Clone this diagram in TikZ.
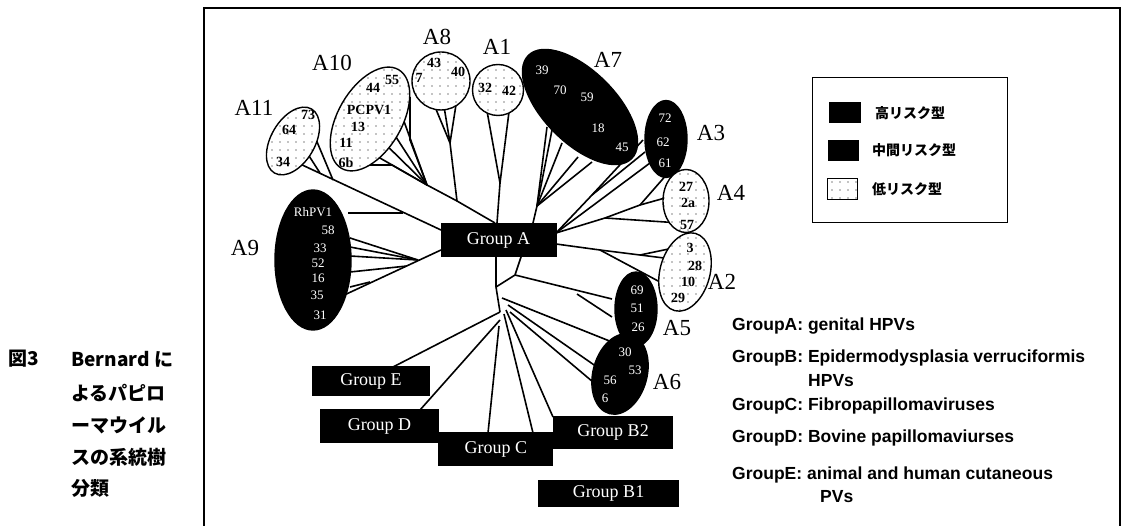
\documentclass[tikz,border=0pt]{standalone}
\usepackage{fontspec}
\setmainfont{Liberation Serif}
\newfontfamily\jpfont{Noto Sans CJK JP}
\newfontfamily\grpfont{Liberation Sans}
\usetikzlibrary{shapes.geometric,patterns.meta}
\tikzset{
  br/.style={line width=1.6pt},
  hi/.style={ellipse,draw=black,fill=black,line width=1.4pt,inner sep=0pt},
  lo/.style={ellipse,draw=black,line width=1.4pt,inner sep=0pt,fill=white,
    postaction={pattern={Dots[distance=8pt,radius=0.7pt]}}},
  wn/.style={text=white,font=\fontsize{13}{13}\selectfont,inner sep=0pt},
  bn/.style={text=black,font=\fontsize{14}{14}\selectfont\bfseries,inner sep=0pt},
  clab/.style={font=\fontsize{23}{23}\selectfont,inner sep=0pt},
  gbox/.style={fill=black,text=white,font=\fontsize{18}{18}\selectfont,inner sep=0pt},
  legt/.style={font=\jpfont\fontsize{14}{14}\selectfont\bfseries,anchor=west,inner sep=0pt},
  gtxt/.style={font=\grpfont\fontsize{17.5}{17.5}\selectfont\bfseries,anchor=west,inner sep=0pt},
  captxt/.style={font=\jpfont\fontsize{19}{19}\selectfont\bfseries,anchor=west,inner sep=0pt},
}
\begin{document}
\begin{tikzpicture}[x=1pt,y=-1pt]
\useasboundingbox (0,0) rectangle (1130,526);
% frame
\draw[line width=1.2pt] (204,526) -- (204,8) -- (1120,8) -- (1120,526);
% caption
\node[captxt] (c1) at (8,359) {図3};
\node[captxt] (c2) at (71,359) {Bernard に};
\node[captxt] (c3) at (71,393) {よるパピロ};
\node[captxt] (c4) at (71,425) {ーマウイル};
\node[captxt] (c5) at (71,457) {スの系統樹};
\node[captxt] (c6) at (71,488) {分類};

% ---------------- tree branches (drawn first) ----------------
\coordinate (R) at (496,287);
\coordinate (GAtop) at (495,223);
% A1
\coordinate (j1) at (500,183);
\draw[br] (497,223) -- (j1) -- (485,100);
\draw[br] (j1) -- (510,104);
% A8 / A10
\coordinate (j8) at (457,201);
\coordinate (j8b) at (450,143);
\coordinate (j10) at (427,185);
\draw[br] (GAtop) -- (j8) -- (j10);
\draw[br] (j8) -- (j8b) -- (428,90);
\draw[br] (j8b) -- (440,82);
\draw[br] (j8b) -- (458,92);
\draw[br] (j10) -- (397,102);
\draw[br] (j10) -- (385,120);
\draw[br] (j10) -- (375,134);
\draw[br] (j10) -- (359,146);
\draw[br] (j10) -- (410,140) -- (410,97);
\draw[br] (j10) -- (392,165) -- (363,165);
% A11 and A9 top
\coordinate (j11a) at (320,173);
\coordinate (j11b) at (333,180);
\coordinate (j9r) at (403,213);
\draw[br] (441,230) -- (298,163);
\draw[br] (j11a) -- (302,145);
\draw[br] (j11b) -- (315,137);
\draw[br] (j9r) -- (348,213);
% A9
\coordinate (j9a) at (418,260);
\coordinate (j9b) at (407,266);
\coordinate (j9c) at (370,282);
\draw[br] (441,250) -- (340,297);
\draw[br] (350,238) -- (j9a);
\draw[br] (350,247) -- (j9a);
\draw[br] (350,256) -- (j9a);
\draw[br] (350,272) -- (j9b);
\draw[br] (350,287) -- (j9c);
% A7
\coordinate (j7) at (537,206);
\draw[br] (533,223) -- (j7) -- (547,127);
\draw[br] (j7) -- (552,130);
\draw[br] (j7) -- (562,143);
\draw[br] (j7) -- (578,157);
\draw[br] (j7) -- (592,162);
% A3 / A4
\coordinate (C1) at (556,233);
\coordinate (j3) at (592,195);
\coordinate (j4) at (640,205);
\coordinate (j4b) at (605,218);
\draw[br] (C1) -- (j3) -- (643,140);
\draw[br] (j3) -- (645,152);
\draw[br] (C1) -- (650,163);
\draw[br] (C1) -- (j4b) -- (j4) -- (665,198);
\draw[br] (j4) -- (668,173);
\draw[br] (j4b) -- (680,223);
% A2
\coordinate (C2) at (556,244);
\coordinate (j2a) at (640,255);
\coordinate (j2b) at (600,250);
\draw[br] (C2) -- (j2b) -- (j2a) -- (680,260);
\draw[br] (j2a) -- (683,246);
\draw[br] (j2b) -- (660,282);
% lower part
\coordinate (R2) at (500,312);
\coordinate (j5) at (515,275);
\draw[br] (496,257) -- (R) -- (R2);
\draw[br] (R) -- (j5) -- (521,257);
\draw[br] (j5) -- (612,299);
\draw[br] (577,294) -- (612,317);
\draw[br] (R2) -- (393,367);
\draw[br] (500,320) -- (420,410);
\draw[br] (499,326) -- (488,433);
\draw[br] (504,314) -- (533,433);
\draw[br] (506,310) -- (553,417);
\draw[br] (502,298) -- (612,342);
\draw[br] (508,305) -- (597,367);
\draw[br] (510,312) -- (593,382);

% ---------------- clusters ----------------
% A11
\node[lo,minimum width=74,minimum height=44,rotate=60] (A11) at (293,141) {};
\node[bn] (n73) at (308,115) {73};
\node[bn] (n64) at (289,130) {64};
\node[bn] (n34) at (283,162) {34};
\node[clab] (lA11) at (254,108) {A11};
% A10
\node[lo,minimum width=114,minimum height=64,rotate=60] (A10) at (370,119) {};
\node[bn] (n44) at (373,88) {44};
\node[bn] (n55) at (392,80) {55};
\node[bn] (nPC) at (369,110) {PCPV1};
\node[bn] (n13) at (358,127) {13};
\node[bn] (n11) at (346,143) {11};
\node[bn] (n6b) at (346,163) {6b};
\node[clab] (lA10) at (332,63) {A10};
% A8
\node[lo,circle,minimum size=58] (A8) at (441,81) {};
\node[bn] (n43) at (434,63) {43};
\node[bn] (n40) at (458,72) {40};
\node[bn] (n7) at (419,78) {7};
\node[clab] (lA8) at (437,37) {A8};
% A1
\node[lo,circle,minimum size=51] (A1) at (498,90) {};
\node[bn] (n32) at (485,88) {32};
\node[bn] (n42) at (509,91) {42};
\node[clab] (lA1) at (497,47) {A1};
% A7
\node[hi,minimum width=146,minimum height=72,rotate=-45] (A7) at (580,107) {};
\node[wn] (n39) at (542,70) {39};
\node[wn] (n70) at (560,90) {70};
\node[wn] (n59) at (587,97) {59};
\node[wn] (n18) at (598,128) {18};
\node[wn] (n45) at (622,147) {45};
\node[clab] (lA7) at (608,60) {A7};
% A3
\node[hi,minimum width=42,minimum height=77] (A3) at (666,139) {};
\node[wn] (n72) at (665,118) {72};
\node[wn] (n62) at (663,142) {62};
\node[wn] (n61) at (665,163) {61};
\node[clab] (lA3) at (711,133) {A3};
% A4
\node[lo,minimum width=46,minimum height=63] (A4) at (686,201) {};
\node[bn] (n27) at (686,187) {27};
\node[bn] (n2a) at (688,203) {2a};
\node[bn] (n57) at (687,225) {57};
\node[clab] (lA4) at (731,193) {A4};
% A2
\node[lo,minimum width=50,minimum height=80,rotate=-15] (A2) at (685,272) {};
\node[bn] (n3) at (690,248) {3};
\node[bn] (n28) at (695,266) {28};
\node[bn] (n10) at (688,282) {10};
\node[bn] (n29) at (678,298) {29};
\node[clab] (lA2) at (722,282) {A2};
% A5
\node[hi,minimum width=42,minimum height=74] (A5) at (636,309) {};
\node[wn] (n69) at (637,290) {69};
\node[wn] (n51) at (637,308) {51};
\node[wn] (n26) at (638,327) {26};
\node[clab] (lA5) at (677,328) {A5};
% A6
\node[hi,minimum width=54,minimum height=82,rotate=-15] (A6) at (620,374) {};
\node[wn] (n30) at (625,352) {30};
\node[wn] (n53) at (635,370) {53};
\node[wn] (n56) at (610,380) {56};
\node[wn] (n6) at (605,398) {6};
\node[clab] (lA6) at (667,382) {A6};
% A9
\node[hi,minimum width=76,minimum height=140] (A9) at (313,260) {};
\node[wn] (nRh) at (313,212) {RhPV1};
\node[wn] (n58) at (328,230) {58};
\node[wn] (n33) at (320,248) {33};
\node[wn] (n52) at (318,263) {52};
\node[wn] (n16) at (318,278) {16};
\node[wn] (n35) at (317,295) {35};
\node[wn] (n31) at (320,315) {31};
\node[clab] (lA9) at (245,248) {A9};

% ---------------- group boxes ----------------
\node[gbox,minimum width=116,minimum height=34] (GA) at (498.5,240.3) {Group A};
\node[gbox,minimum width=118,minimum height=30] (GE) at (371,381.5) {Group E};
\node[gbox,minimum width=119,minimum height=34] (GD) at (379.5,426) {Group D};
\node[gbox,minimum width=120,minimum height=33] (GB2) at (613,432.5) {Group B2};
\node[gbox,minimum width=115,minimum height=34] (GC) at (495.8,449) {Group C};
\node[gbox,minimum width=141,minimum height=27] (GB1) at (608.5,493.5) {Group B1};

% ---------------- legend ----------------
\node[draw,line width=1pt,minimum width=195,minimum height=145] (leg) at (909.5,150.5) {};
\node[fill=black,minimum width=32,minimum height=21,inner sep=0pt] (k1) at (845,112.5) {};
\node[fill=black,minimum width=31,minimum height=21,inner sep=0pt] (k2) at (843.5,150.5) {};
\node[draw,line width=1pt,minimum width=30,minimum height=21,inner sep=0pt,
  pattern={Dots[distance=8pt,radius=0.7pt]}] (k3) at (842,189.5) {};
\node[legt] (t1) at (875,113) {高リスク型};
\node[legt] (t2) at (872,150) {中間リスク型};
\node[legt] (t3) at (872,189) {低リスク型};

% ---------------- group descriptions ----------------
\node[gtxt] (dA) at (732,326) {GroupA: genital HPVs};
\node[gtxt] (dB) at (732,358) {GroupB: Epidermodysplasia verruciformis};
\node[gtxt] (dB2) at (808,381) {HPVs};
\node[gtxt] (dC) at (732,406) {GroupC: Fibropapillomaviruses};
\node[gtxt] (dD) at (732,438) {GroupD: Bovine papillomaviurses};
\node[gtxt] (dE) at (732,475) {GroupE: animal and human cutaneous};
\node[gtxt] (dE2) at (820,497) {PVs};
\end{tikzpicture}
\end{document}
